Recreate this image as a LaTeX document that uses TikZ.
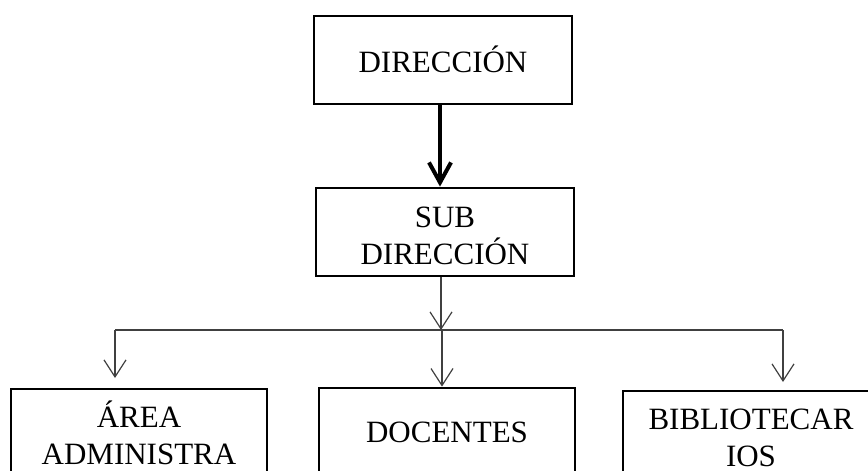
\documentclass[tikz,border=0pt]{standalone}
\usepackage{fontspec}
\setmainfont{Liberation Serif}
\usetikzlibrary{arrows.meta}
\begin{document}
\begin{tikzpicture}[x=0.5pt,y=-0.5pt,
  caja/.style={draw,line width=1.4pt,minimum width=129pt,minimum height=44pt,inner sep=0pt,align=center,font=\fontsize{15.5}{18.5}\selectfont},
  flecha/.style={draw=black!75,line width=0.6pt,-{Straight Barb[length=8.5pt,width=11pt]}},
  gruesa/.style={line width=2pt,-{Straight Barb[length=10pt,width=11pt,line width=2pt]}}]
\useasboundingbox (0,0) rectangle (868,471);
\clip (0,0) rectangle (868,471);
\node[caja,text height=12pt,text depth=0pt] (dir) at (443,60) {DIRECCIÓN};
\node[caja] (subdir) at (445,232) {\rule{0pt}{14.5pt}SUB\\DIRECCIÓN};
\node[caja,minimum width=128pt] (area) at (139,433) {ÁREA\\ADMINISTRA};
\node[caja,minimum width=128pt] (docentes) at (447,432) {DOCENTES};
\node[caja,minimum width=128pt] (biblio) at (751,435) {\rule{0pt}{13.5pt}BIBLIOTECAR\\IOS};
% bus
\coordinate (busL) at (115,330);
\coordinate (busS) at (441,330);
\coordinate (busD) at (442,330);
\coordinate (busR) at (783,330);
\coordinate (areaIn) at (115,378);
\coordinate (biblioIn) at (783,382);
\draw[gruesa] (dir.south -| 440,0) -- (subdir.north -| 440,0);
\draw[flecha] (subdir.south -| busS) -- (busS);
\draw[draw=black!75,line width=0.6pt] (busL) -- (busR);
\draw[flecha] (busL) -- (areaIn);
\draw[flecha] (busD) -- (busD |- docentes.north);
\draw[flecha] (busR) -- (biblioIn);
\end{tikzpicture}
\end{document}
